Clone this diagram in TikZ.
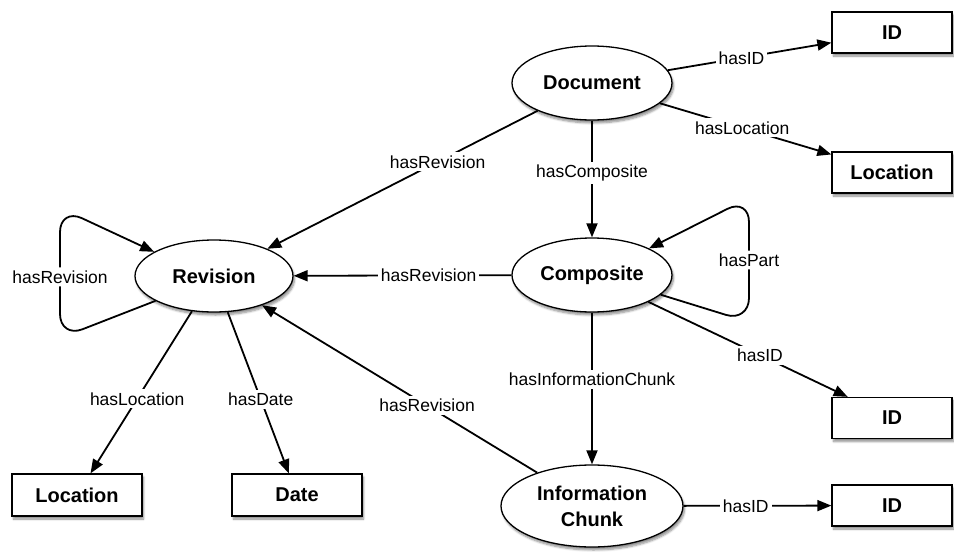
\documentclass[tikz,border=0pt]{standalone}
\usepackage{fontspec}
\setmainfont{Liberation Sans}
\usetikzlibrary{shapes.geometric,arrows.meta,shadows.blur}
\begin{document}
\begin{tikzpicture}[x=1pt,y=-1pt,
  nshadow/.style={blur shadow={shadow xshift=1.5pt,shadow yshift=-3pt,shadow blur steps=6,shadow opacity=45}},
  ell/.style={ellipse,draw,line width=1.3pt,fill=white,inner sep=0pt,
    font=\bfseries\fontsize{20}{24}\selectfont,nshadow},
  box/.style={rectangle,draw,line width=1.3pt,fill=white,minimum width=120pt,
    minimum height=41pt,inner sep=0pt,font=\bfseries\fontsize{20}{24}\selectfont,nshadow},
  rel/.style={line width=1.8pt,-{Triangle[length=14pt,width=11pt]}},
  lbl/.style={fill=white,inner sep=3pt,font=\fontsize{17.5}{20}\selectfont}
]
\useasboundingbox (0,0) rectangle (954,552);

% boxes
\node[box] (id1) at (892,32.5) {ID};
\node[box] (loc1) at (892,172.5) {Location};
\node[box] (id2) at (892,418) {ID};
\node[box] (id3) at (892,505.5) {ID};
\node[box,minimum width=130pt,minimum height=42pt] (loc2) at (77,495) {Location};
\node[box,minimum width=130pt,minimum height=42pt] (date) at (297,495) {Date};

% ellipses
\node[ell,minimum width=160pt,minimum height=74pt] (doc) at (592,83) {Document};
\node[ell,minimum width=158pt,minimum height=72pt] (rev) at (214,276) {Revision};
\node[ell,minimum width=160pt,minimum height=74pt] (comp) at (592,275) {Composite};
\node[ell,minimum width=182pt,minimum height=82pt,align=center] (info) at (592,506) {Information\\[2pt]Chunk};

% relations
\draw[rel] (doc) -- node[lbl,pos=0.45] {hasID} (id1);
\draw[rel] (doc) -- node[lbl,pos=0.48] {hasLocation} (loc1);
\draw[rel] (doc) -- node[lbl,pos=0.37] {hasRevision} (rev);
\draw[rel] (doc) -- node[lbl,pos=0.45] {hasComposite} (comp);
\draw[rel] (comp) -- node[lbl,pos=0.38] {hasRevision} (rev);
\draw[rel] (comp) -- node[lbl,pos=0.56] {hasID} (id2);
\draw[rel] (comp) -- node[lbl,pos=0.44] {hasInformationChunk} (info);
\draw[rel] (info) -- node[lbl,pos=0.40] {hasRevision} (rev);
\draw[rel] (info) -- node[lbl,pos=0.42] {hasID} (id3);
\draw[rel] (rev) -- node[lbl,pos=0.54] {hasLocation} (loc2);
\draw[rel] (rev) -- node[lbl,pos=0.54] {hasDate} (date);

% self loops
\coordinate (rlb) at (60,338);
\coordinate (rlt) at (60,208);
\draw[rel,rounded corners=24pt] (rev.203) -- (rlb) -- node[lbl,pos=0.47] {hasRevision} (rlt) -- (rev.158);
\coordinate (clb) at (749,322);
\coordinate (clt) at (749,198);
\draw[rel,rounded corners=24pt] (comp.-16) -- (clb) -- node[lbl,pos=0.5] {hasPart} (clt) -- (comp.25);
\end{tikzpicture}
\end{document}
